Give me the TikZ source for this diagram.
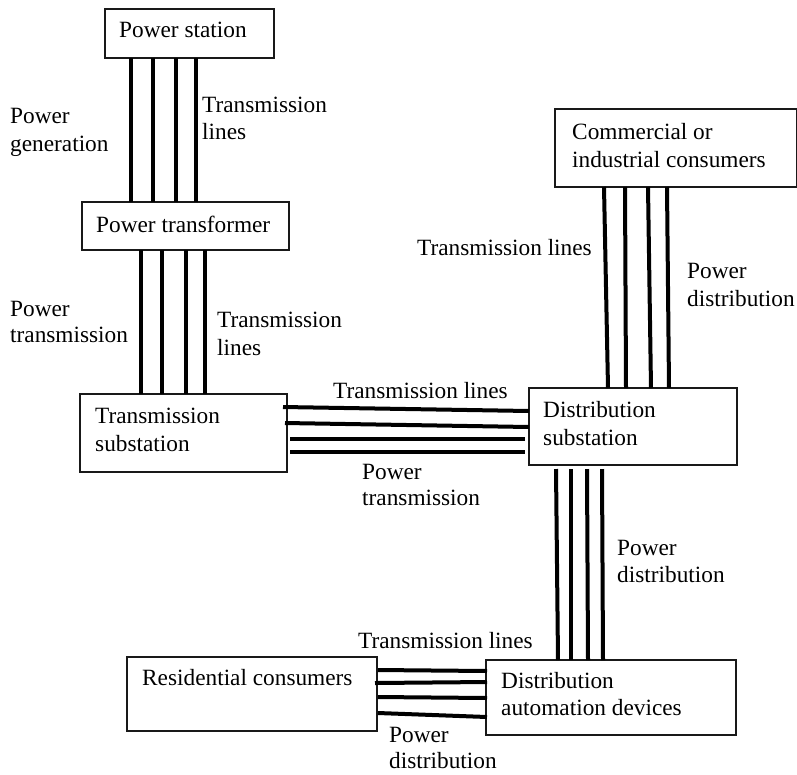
\documentclass[tikz,border=0pt]{standalone}
\usepackage{fontspec}
\setmainfont{Liberation Serif}
\usetikzlibrary{calc}
\begin{document}
\begin{tikzpicture}[x=1pt,y=-1pt,
  box/.style={draw=black!90, line width=1.4pt, anchor=north west,
              inner sep=0pt, outer sep=0pt},
  wire/.style={line width=4pt, black},
  lbl/.style={anchor=base west, inner sep=0pt,
              font=\rmfamily\fontsize{23.3}{27}\selectfont, text=black}]
\useasboundingbox (0,0) rectangle (797,774);

% ---------- boxes ----------
\node[box, minimum width=169pt, minimum height=49pt] (ps) at (105,9) {};
\node[box, minimum width=207pt, minimum height=48pt] (pt) at (82,202) {};
\node[box, minimum width=207pt, minimum height=78pt] (ts) at (80,394) {};
\node[box, minimum width=242pt, minimum height=78pt] (cc) at (555,109) {};
\node[box, minimum width=208pt, minimum height=77pt] (ds) at (529,388) {};
\node[box, minimum width=250pt, minimum height=75pt] (da) at (486,660) {};
\node[box, minimum width=250pt, minimum height=74pt] (rc) at (127,657) {};

% ---------- box texts ----------
\node[lbl] (ps-t)  at (119,37)  {Power station};
\node[lbl] (pt-t)  at (96,232)  {Power transformer};
\node[lbl] (ts-t1) at (95,423)  {Transmission};
\node[lbl] (ts-t2) at (95,451)  {substation};
\node[lbl] (cc-t1) at (572,139) {Commercial or};
\node[lbl] (cc-t2) at (572,167) {industrial consumers};
\node[lbl] (ds-t1) at (543,417) {Distribution};
\node[lbl] (ds-t2) at (543,445) {substation};
\node[lbl] (da-t1) at (501,688) {Distribution};
\node[lbl] (da-t2) at (501,715) {automation devices};
\node[lbl] (rc-t)  at (142,685) {Residential consumers};

% ---------- line bundles ----------
% power station -> power transformer
\foreach \a/\b in {131/131,153/153,176/176,196/196}
  \draw[wire] (\a,0 |- ps.south) -- (\b,0 |- pt.north);
% power transformer -> transmission substation
\foreach \a/\b in {141/141,162/162,186/186,205/205}
  \draw[wire] (\a,0 |- pt.south) -- (\b,0 |- ts.north);
% transmission substation -> distribution substation
\draw[wire] ($(ts.east |- 0,407)+(-4,0)$) -- (ds.west |- 0,411);
\draw[wire] ($(ts.east |- 0,423)+(-2,0)$) -- (ds.west |- 0,427);
\draw[wire] ($(ts.east |- 0,439)+(3,0)$) -- ($(ds.west |- 0,439)+(-4,0)$);
\draw[wire] ($(ts.east |- 0,452)+(3,0)$) -- ($(ds.west |- 0,452)+(-4,0)$);
% commercial consumers -> distribution substation
\foreach \a/\b in {604/608,625/626,648/651,667/669}
  \draw[wire] (\a,0 |- cc.south) -- (\b,0 |- ds.north);
% distribution substation -> automation devices
\foreach \a/\b in {556/558,571/571,587/588,602/603}
  \draw[wire] ($(\a,0 |- ds.south)+(0,4)$) -- (\b,0 |- da.north);
% residential consumers -> automation devices
\draw[wire] ($(rc.east |- 0,670)+(1,0)$) -- ($(da.west |- 0,671)+(1,0)$);
\draw[wire] ($(rc.east |- 0,683)+(-2,0)$) -- ($(da.west |- 0,682)+(1,0)$);
\draw[wire] ($(rc.east |- 0,697)+(1,0)$) -- ($(da.west |- 0,698)+(1,0)$);
\draw[wire] ($(rc.east |- 0,713)+(1,0)$) -- ($(da.west |- 0,717)+(1,0)$);

% ---------- connector labels ----------
\node[lbl] (tl1a) at (202,112) {Transmission};
\node[lbl] (tl1b) at (202,139) {lines};
\node[lbl] (pg1)  at (10,123)  {Power};
\node[lbl] (pg2)  at (10,151)  {generation};
\node[lbl] (pw1)  at (10,316)  {Power};
\node[lbl] (pw2)  at (10,342)  {transmission};
\node[lbl] (tl2a) at (217,327) {Transmission};
\node[lbl] (tl2b) at (217,355) {lines};
\node[lbl] (tl3)  at (333,398) {Transmission lines};
\node[lbl] (pw3)  at (362,479) {Power};
\node[lbl] (pw4)  at (362,505) {transmission};
\node[lbl] (tl4)  at (417,255) {Transmission lines};
\node[lbl] (pd1)  at (687,278) {Power};
\node[lbl] (pd2)  at (687,306) {distribution};
\node[lbl] (pd3)  at (617,555) {Power};
\node[lbl] (pd4)  at (617,582) {distribution};
\node[lbl] (tl5)  at (358,648) {Transmission lines};
\node[lbl] (pd5)  at (389,742) {Power};
\node[lbl] (pd6)  at (389,768) {distribution};
\end{tikzpicture}
\end{document}
